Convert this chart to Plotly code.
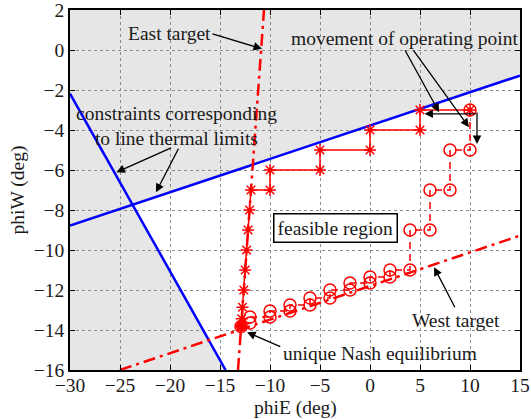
import numpy as np
import plotly.graph_objects as go

# ---- data ----
# thermal-limit constraint lines
con1_x = [-30.0, -14.44]
con1_y = [-2.18, -16.0]
con2_x = [-30.0, 15.0]
con2_y = [-8.78, -1.28]
# target lines
east_x = [-13.2, -10.6]
east_y = [-16.0, 2.0]
west_x = [-25.0, 15.0]
west_y = [-16.0, -9.28]
# trajectory 1 (stars, solid)
star_x = [10, 5, 5, 0, 0, -5, -5, -10, -10, -11.9, -12.05, -12.19, -12.34, -12.48, -12.62, -12.75, -12.83, -12.9]
star_y = [-3, -3, -4, -4, -5, -5, -6, -6, -7, -7, -8, -9, -10, -11, -12, -12.86, -13.44, -13.82]
# trajectory 2 (circles, dashed)
circ_x = [10, 10, 8, 8, 6, 6, 4, 4, 2, 2, 0, 0, -2, -2, -4, -4, -6, -6, -8, -8, -10, -10, -12, -12, -12.9]
circ_y = [-3, -5, -5, -7, -7, -9, -9, -11, -11, -11.35, -11.35, -11.65, -11.65, -12.0, -12.0, -12.4, -12.4,
          -12.75, -12.75, -13.05, -13.05, -13.35, -13.35, -13.65, -13.82]
nash_x = [-12.9]
nash_y = [-13.82]
x_range = [-30, 15]
y_range = [-16, 2]
x_ticks = [-30, -25, -20, -15, -10, -5, 0, 5, 10, 15]
y_ticks = [-16, -14, -12, -10, -8, -6, -4, -2, 0, 2]

FONT = "Liberation Serif"
FS = 19.5

# intersection of constraint lines -> infeasible region polygon
m1 = (con1_y[1] - con1_y[0]) / (con1_x[1] - con1_x[0])
m2 = (con2_y[1] - con2_y[0]) / (con2_x[1] - con2_x[0])
b1 = con1_y[0] - m1 * con1_x[0]
b2 = con2_y[0] - m2 * con2_x[0]
xi = (b2 - b1) / (m1 - m2)
yi = m1 * xi + b1
poly = [(x_range[0], y_range[1]), (x_range[1], y_range[1]), (con2_x[1], con2_y[1]),
        (xi, yi), (con1_x[1], con1_y[1]), (x_range[0], y_range[0])]
path = "M " + " L ".join(f"{px},{py}" for px, py in poly) + " Z"

fig = go.Figure()
fig.add_shape(type="path", path=path, xref="x", yref="y", fillcolor="#e6e6e6",
              line=dict(width=0), layer="below")

fig.add_trace(go.Scatter(x=con1_x, y=con1_y, mode="lines", line=dict(color="#0000ff", width=2.5)))
fig.add_trace(go.Scatter(x=con2_x, y=con2_y, mode="lines", line=dict(color="#0000ff", width=2.5)))
fig.add_trace(go.Scatter(x=east_x, y=east_y, mode="lines",
                         line=dict(color="#ff0000", width=2.5, dash="12px,5px,3px,5px")))
fig.add_trace(go.Scatter(x=west_x, y=west_y, mode="lines",
                         line=dict(color="#ff0000", width=2.5, dash="12px,5px,3px,5px")))
fig.add_trace(go.Scatter(x=circ_x, y=circ_y, mode="lines+markers",
                         line=dict(color="#ff0000", width=1.5, dash="7px,5px"),
                         marker=dict(symbol="circle-open", size=12, color="#ff0000",
                                     line=dict(width=1.5, color="#ff0000"))))
fig.add_trace(go.Scatter(x=star_x, y=star_y, mode="lines+markers",
                         line=dict(color="#ff0000", width=1.5),
                         marker=dict(symbol="asterisk-open", size=10, color="#ff0000",
                                     line=dict(width=1.5, color="#ff0000"))))
fig.add_trace(go.Scatter(x=nash_x, y=nash_y, mode="markers",
                         marker=dict(symbol="circle", size=10, color="#ff0000")))

annots = []
def txt(x, y, s, **kw):
    d = dict(x=x, y=y, text=s, showarrow=False, xref="x", yref="y",
             font=dict(family=FONT, size=FS, color="#1a1a1a"))
    d.update(kw)
    annots.append(d)

def arrow(x0, y0, x1, y1):
    annots.append(dict(x=x1, y=y1, ax=x0, ay=y0, xref="x", yref="y", axref="x", ayref="y",
                       text="", showarrow=True, arrowhead=2, arrowsize=1.3, arrowwidth=1.3,
                       arrowcolor="black", standoff=0, startstandoff=0))

txt(-20.07, 0.83, "East target")
arrow(-15.9, 0.83, -10.8, 0.06)
txt(-19.37, -3.78, "constraints corresponding<br>to line thermal limits")
arrow(-19.74, -4.86, -25.36, -6.11)
arrow(-19.08, -4.86, -21.4, -7.11)
txt(3.47, 0.56, "movement of operating point")
arrow(3.42, 0.06, 6.91, -3.11)
arrow(4.24, 0.06, 9.89, -3.86)
arrow(10.7, -3.19, 5.45, -3.19)
arrow(10.7, -3.05, 10.7, -4.7)
txt(-3.49, -8.88, "feasible region", bordercolor="black", borderwidth=1.5, borderpad=3, bgcolor="white")
txt(8.63, -13.5, "West target")
arrow(8.56, -12.94, 6.41, -10.86)
txt(1.03, -15.19, "unique Nash equilibrium")
arrow(-8.82, -14.86, -12.29, -14.11)

# x-axis title placed as paper-anchored text below the tick labels
annots.append(dict(x=0.5, y=0, xref="paper", yref="paper", yanchor="top", yshift=-25,
                   text="phiE (deg)", showarrow=False,
                   font=dict(family=FONT, size=FS, color="#1a1a1a")))

axis_common = dict(showline=True, linecolor="black", linewidth=1.5, mirror="ticks",
                   ticks="inside", ticklen=5, tickcolor="black", showgrid=True,
                   gridcolor="#8c8c8c", griddash="dot", gridwidth=1, zeroline=False,
                   automargin=False, ticklabeloverflow="allow",
                   tickfont=dict(family=FONT, size=FS, color="#1a1a1a"))

fig.update_layout(
    width=531, height=419, margin=dict(l=70, r=11, t=10, b=49),
    paper_bgcolor="white", plot_bgcolor="white", showlegend=False,
    annotations=annots,
    xaxis=dict(range=x_range, tickvals=x_ticks, ticklabelstandoff=-3, **axis_common),
    yaxis=dict(range=y_range, tickvals=y_ticks, title=dict(text="phiW (deg)", standoff=4,
               font=dict(family=FONT, size=FS, color="#1a1a1a")), **axis_common),
)
fig.write_html("out.html")
